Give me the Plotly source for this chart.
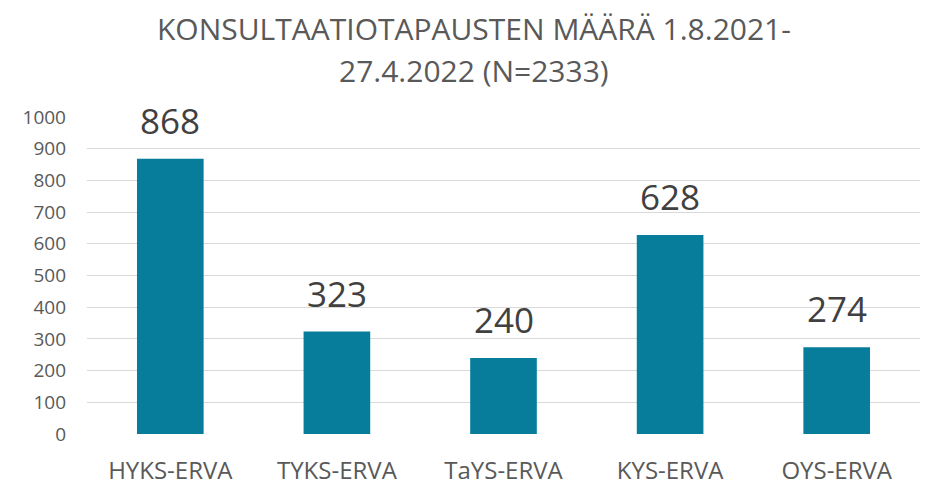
import plotly.graph_objects as go

categories = ["HYKS-ERVA", "TYKS-ERVA", "TaYS-ERVA", "KYS-ERVA", "OYS-ERVA"]
values = [868, 323, 240, 628, 274]
tick_vals = [0, 100, 200, 300, 400, 500, 600, 700, 800, 900, 1000]
title_lines = ["KONSULTAATIOTAPAUSTEN MÄÄRÄ 1.8.2021-", "27.4.2022 (N=2333)"]

# the page body has an 8px default margin, so the figure is sized to fit the window
fig = go.Figure()
fig.add_trace(go.Bar(
    x=categories, y=values,
    marker=dict(color="#077D9B", line=dict(width=0)),
    hoverinfo="skip",
))
for c, v in zip(categories, values):
    fig.add_annotation(x=c, y=v, text=str(v), showarrow=False,
                       yanchor="bottom", yshift=13,
                       font=dict(family="Open Sans", size=35, color="#404040"))

for txt, yy in zip(title_lines, [1.278, 1.148]):
    fig.add_annotation(xref="paper", yref="paper", x=0.464, y=yy, text=txt,
                       showarrow=False, xanchor="center", yanchor="middle",
                       borderpad=0,
                       font=dict(family="Open Sans", size=30, color="#595959"))

fig.update_layout(
    width=921, height=477,
    margin=dict(l=79, r=9, t=109, b=51, autoexpand=False),
    paper_bgcolor="white", plot_bgcolor="white",
    bargap=0.6,
    showlegend=False,
    font=dict(family="Open Sans", color="#595959"),
)
fig.update_yaxes(range=[0, 1000], tickvals=tick_vals, showgrid=True,
                 gridcolor="#D9D9D9", gridwidth=1.3, zeroline=False,
                 showline=False, ticks="", ticklabelstandoff=20, automargin=False,
                 tickfont=dict(family="Open Sans", size=19, color="#595959"))
fig.update_xaxes(showline=False, ticks="", ticklabelstandoff=20, automargin=False,
                 tickfont=dict(family="Open Sans", size=24, color="#595959"))

fig.write_html("out.html")
